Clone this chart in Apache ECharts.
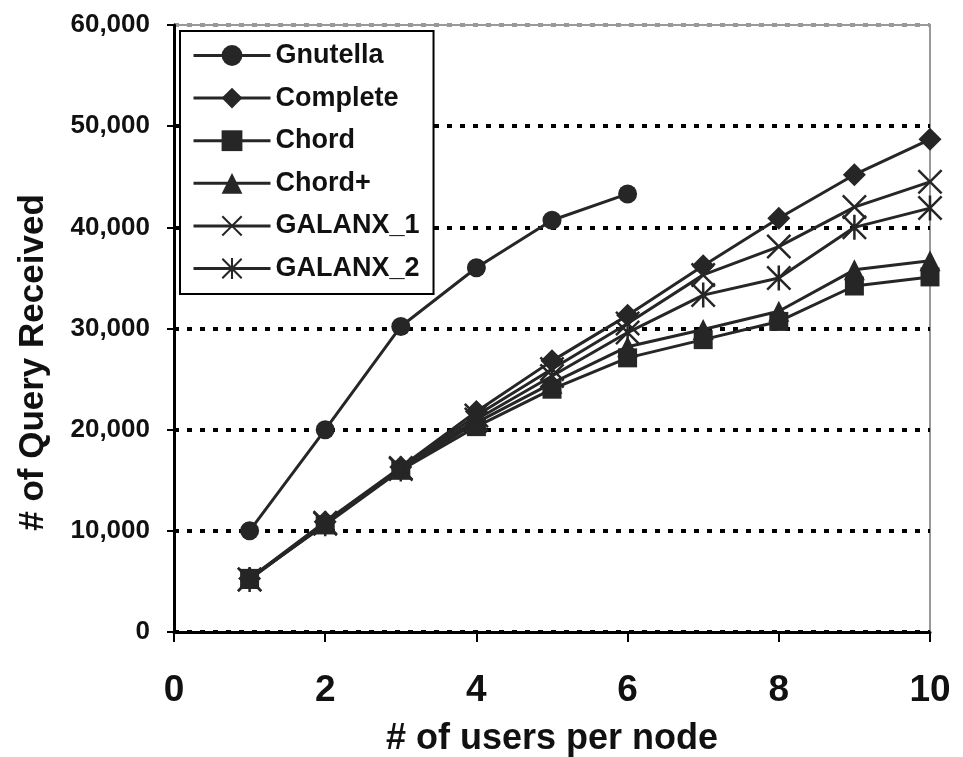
<!DOCTYPE html>
<html>
<head>
<meta charset="utf-8">
<script src="https://cdn.jsdelivr.net/npm/echarts@6/dist/echarts.min.js"></script>
<style>
html,body{margin:0;padding:0;background:#fff;}
#chart{width:963px;height:757px;}
</style>
</head>
<body>
<div id="chart"></div>
<script>
const xValues = [1, 2, 3, 4, 5, 6, 7, 8, 9, 10];
const seriesNames = ['Gnutella', 'Complete', 'Chord', 'Chord+', 'GALANX_1', 'GALANX_2'];
const gnutella = [10000, 20000, 30200, 36000, 40700, 43300];
const complete = [5300, 10900, 16300, 21800, 26800, 31300, 36200, 40900, 45200, 48700];
const chord = [5300, 10600, 16000, 20300, 24000, 27100, 28900, 30700, 34200, 35100];
const chordPlus = [5300, 10700, 16100, 20700, 24600, 28200, 29900, 31700, 35800, 36700];
const galanx1 = [5200, 10800, 16200, 21400, 26000, 30500, 35300, 38100, 42000, 44500];
const galanx2 = [5200, 10700, 16100, 21000, 25300, 29600, 33300, 35000, 40000, 41900];
const xTicks = [0, 2, 4, 6, 8, 10];
const yTicks = [0, 10000, 20000, 30000, 40000, 50000, 60000];

const INK = '#262626';
const xPath = 'path://M0,0.7L0.7,0L5,4.3L9.3,0L10,0.7L5.7,5L10,9.3L9.3,10L5,5.7L0.7,10L0,9.3L4.3,5Z';
const starPath = 'path://M0,0.7L0.7,0L5,4.3L9.3,0L10,0.7L5.7,5L10,9.3L9.3,10L5,5.7L0.7,10L0,9.3L4.3,5Z M4.5,0L5.5,0L5.5,10L4.5,10Z';

function pairs(vals) { return vals.map((v, i) => [xValues[i], v]); }

const allData = [gnutella, complete, chord, chordPlus, galanx1, galanx2];
const symbols = ['circle', 'diamond', 'rect', 'triangle', xPath, starPath];
const sizes = [19, 23, 19, 21, 25, 25];

const series = seriesNames.map((name, i) => ({
  name: name,
  type: 'line',
  data: pairs(allData[i]),
  symbol: symbols[i],
  symbolSize: sizes[i],
  showAllSymbol: true,
  lineStyle: { color: INK, width: 3 },
  itemStyle: { color: INK, borderWidth: 0 },
  emphasis: { disabled: true },
  animation: false
}));

const chart = echarts.init(document.getElementById('chart'), null, { renderer: 'canvas' });
chart.setOption({
  backgroundColor: '#fff',
  animation: false,
  grid: { left: 174, right: 33, top: 25, bottom: 125, containLabel: false, outerBoundsMode: 'none', show: true, borderColor: '#999', borderWidth: 2 },
  legend: {
    orient: 'vertical',
    left: 180,
    top: 31,
    data: seriesNames,
    itemWidth: 77,
    itemHeight: 26,
    itemGap: 15.6,
    padding: [11, 14, 12, 12],
    borderColor: '#000',
    borderWidth: 2,
    backgroundColor: '#fff',
    lineStyle: { width: 3 },
    textStyle: { fontFamily: "'Liberation Sans', Arial, sans-serif", fontWeight: 'bold', fontSize: 27, color: '#111' },
    inactiveColor: INK
  },
  xAxis: {
    type: 'value',
    min: 0, max: 10, interval: 2,
    name: '# of users per node',
    nameLocation: 'middle',
    nameGap: 89,
    nameTextStyle: { fontFamily: "'Liberation Sans Narrow', 'Arial Narrow', 'Liberation Sans', sans-serif", fontWeight: 'bold', fontSize: 36, color: '#111' },
    axisLine: { show: true, onZero: false, lineStyle: { color: '#000', width: 3 } },
    axisTick: { show: true, inside: false, length: 10, lineStyle: { color: '#000', width: 2 } },
    axisLabel: {
      margin: 40,
      fontFamily: "'Liberation Sans Narrow', 'Arial Narrow', 'Liberation Sans', sans-serif",
      fontWeight: 'bold', fontSize: 37, color: '#111',
      formatter: v => xTicks.includes(v) ? String(v) : ''
    },
    splitLine: { show: false }
  },
  yAxis: {
    type: 'value',
    min: 0, max: 60000, interval: 10000,
    name: '# of Query Received',
    nameLocation: 'middle',
    nameGap: 123,
    nameTextStyle: { fontFamily: "'Liberation Sans', Arial, sans-serif", fontWeight: 'bold', fontSize: 35, color: '#111', padding: [0, 68, 0, 0] },
    axisLine: { show: true, lineStyle: { color: '#000', width: 3 } },
    axisTick: { show: true, inside: false, length: 7, lineStyle: { color: '#000', width: 2 } },
    axisLabel: {
      margin: 24,
      fontFamily: "'Liberation Sans', Arial, sans-serif",
      fontWeight: 'bold', fontSize: 26, color: '#111',
      formatter: v => yTicks.includes(v) ? v.toLocaleString('en-US') : ''
    },
    splitLine: { show: true, lineStyle: { color: ['#000', '#000', '#000', '#000', '#000', '#000', '#999'], width: 4, type: [5, 8] } }
  },
  series: series
});
</script>
</body>
</html>
